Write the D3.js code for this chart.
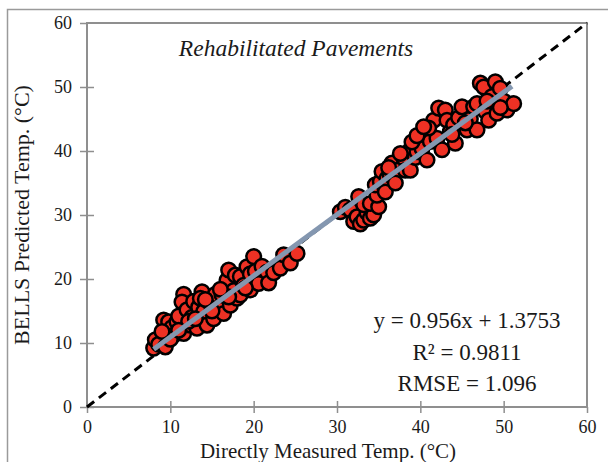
<!DOCTYPE html>
<html>
<head>
<meta charset="utf-8">
<script src="https://cdn.jsdelivr.net/npm/d3@7"></script>
<style>
  body { margin: 0; background: #fff; }
  text { font-family: "Liberation Serif", "Times New Roman", serif; fill: #1a1a1a; }
</style>
</head>
<body>
<div id="chart"></div>
<script>
// directly measured temperature (x) and BELLS predicted temperature (y)
var measured = [
  8.0, 8.2, 8.6, 9.4, 9.2, 9.8, 10.2, 10.4, 10.8, 11.0, 11.6, 11.6, 11.4, 12.0, 12.4, 12.8,
  12.6, 13.2, 13.4, 13.8, 13.6, 14.0, 14.4, 14.8, 15.2, 15.4, 15.8, 16.2, 16.4, 16.8, 17.0,
  17.2, 17.6, 17.8, 18.0, 18.4, 18.4, 18.8, 19.2, 19.6, 19.6, 20.0, 20.2, 20.6, 21.0, 21.6,
  21.8, 22.4, 23.2, 23.6, 24.4, 25.2, 10.0, 9.0, 12.2, 11.0, 15.0, 17.0, 19.0, 16.0, 13.0, 14.2,
  30.4, 31.0, 31.6, 32.0, 32.4, 32.8, 33.2, 33.6, 34.0, 34.4, 32.6, 33.2, 34.0, 35.0, 34.8,
  34.6, 35.2, 35.4, 36.0, 35.8, 36.6, 36.4, 37.2, 37.0, 38.0, 38.2, 38.8, 38.8, 39.4, 39.6,
  40.0, 40.2, 40.6, 40.8, 41.2, 41.6, 42.0, 42.2, 42.6, 43.0, 43.2, 43.6, 44.0, 44.2, 44.6,
  45.0, 45.6, 46.0, 46.4, 46.8, 46.8, 47.2, 47.6, 47.8, 48.2, 48.6, 49.0, 49.2, 49.6, 50.0,
  50.4, 51.2, 49.6, 48.0, 37.6, 39.0, 41.0, 36.2, 45.4, 43.8, 39.6, 40.4
];
var predicted = [
  9.2, 10.5, 9.8, 9.4, 13.6, 13.3, 12.4, 11.2, 13.3, 14.2, 11.5, 17.6, 16.4, 15.2, 12.8, 16.5,
  14.0, 12.3, 15.6, 18.0, 17.0, 14.9, 12.8, 16.2, 13.8, 17.6, 15.4, 17.5, 14.6, 19.8, 21.4,
  15.9, 18.2, 20.6, 17.0, 20.4, 17.5, 19.0, 21.9, 18.3, 20.8, 23.5, 21.2, 19.3, 22.0, 21.1,
  19.4, 21.0, 21.7, 23.8, 22.5, 24.0, 10.6, 11.8, 13.4, 12.0, 15.0, 17.2, 18.6, 18.4, 13.8, 16.8,
  30.5, 31.2, 30.8, 29.0, 29.7, 28.6, 29.2, 30.4, 29.5, 30.0, 32.9, 31.6, 31.8, 31.3, 33.1,
  34.7, 35.2, 36.8, 35.7, 33.6, 38.1, 36.2, 37.0, 35.0, 38.9, 37.0, 37.0, 40.2, 39.0, 39.9,
  42.2, 40.4, 43.3, 38.6, 41.5, 44.8, 42.0, 46.7, 40.2, 46.4, 44.8, 43.0, 44.1, 41.2, 45.2,
  46.9, 43.3, 45.0, 46.9, 43.3, 47.4, 50.6, 50.0, 46.2, 44.8, 48.5, 50.8, 45.9, 49.8, 47.8,
  46.4, 47.4, 46.8, 47.8, 39.6, 41.4, 43.6, 37.4, 44.4, 42.6, 42.4, 43.8
];
var xTicks = [0, 10, 20, 30, 40, 50, 60];
var yTicks = [0, 10, 20, 30, 40, 50, 60];
var slope = 0.956, intercept = 1.3753;
var fitRange = [8, 51];
var statLines = ["y = 0.956x + 1.3753", "R² = 0.9811", "RMSE = 1.096"];

var W = 608, H = 462;
var margin = { top: 23, right: 21, bottom: 55, left: 87 },
    width = W - margin.left - margin.right,
    height = H - margin.top - margin.bottom;

var svg = d3.select("#chart").append("svg")
    .attr("width", W)
    .attr("height", H);

// outer frame (only top/left visible)
svg.append("path")
    .attr("d", "M7.5," + H + "V9.5H" + W)
    .style("fill", "none")
    .style("stroke", "#9a9a9a")
    .style("stroke-width", 1.5);

var g = svg.append("g")
    .attr("transform", "translate(" + margin.left + "," + margin.top + ")");

var x = d3.scaleLinear().domain([0, 60]).range([0, width]),
    y = d3.scaleLinear().domain([0, 60]).range([height, 0]);

// plot border
g.append("rect")
    .attr("width", width)
    .attr("height", height)
    .style("fill", "none")
    .style("stroke", "#8f8f8f")
    .style("stroke-width", 2);

// axes
var xAxis = g.append("g")
    .attr("transform", "translate(0," + height + ")")
    .call(d3.axisBottom(x).tickValues(xTicks).tickSize(6).tickPadding(7));
var yAxis = g.append("g")
    .call(d3.axisLeft(y).tickValues(yTicks).tickSize(7).tickPadding(8));

[xAxis, yAxis].forEach(function (a) {
    a.attr("font-family", "Liberation Serif").attr("font-size", 18);
    a.select(".domain").remove();
    a.selectAll(".tick line").attr("stroke", "#8f8f8f").attr("stroke-width", 1.5);
    a.selectAll(".tick text").attr("fill", "#1a1a1a");
});
// ticks cross the axis
xAxis.selectAll(".tick line").attr("y1", -6);
yAxis.selectAll(".tick line").attr("x1", 7);
xAxis.selectAll(".tick").filter(function (d) { return d === 0 || d === 60; }).select("line").attr("y1", 0);
yAxis.selectAll(".tick").filter(function (d) { return d === 60; }).select("line").attr("x1", 0);

// 1:1 line
g.append("line")
    .attr("x1", x(0)).attr("y1", y(0))
    .attr("x2", x(60)).attr("y2", y(60))
    .style("stroke", "#000")
    .style("stroke-width", 3)
    .style("stroke-dasharray", "9,6");

// points
var pts = measured.map(function (m, i) { return { m: m, p: predicted[i] }; });
g.selectAll(".dot")
    .data(pts)
    .enter().append("circle")
    .attr("class", "dot")
    .attr("cx", function (d) { return x(d.m); })
    .attr("cy", function (d) { return y(d.p); })
    .attr("r", 7.3)
    .style("fill", "#ee3124")
    .style("stroke", "#000")
    .style("stroke-width", 2.5);

// regression line
g.append("line")
    .attr("x1", x(fitRange[0])).attr("y1", y(slope * fitRange[0] + intercept))
    .attr("x2", x(fitRange[1])).attr("y2", y(slope * fitRange[1] + intercept))
    .style("stroke", "#8497b0")
    .style("stroke-width", 5);

// annotation
g.append("text")
    .attr("x", 209)
    .attr("y", 33)
    .style("text-anchor", "middle")
    .style("font-style", "italic")
    .style("font-size", "23.5px")
    .text("Rehabilitated Pavements");

g.selectAll(".stat")
    .data(statLines)
    .enter().append("text")
    .attr("class", "stat")
    .attr("x", 380)
    .attr("y", function (d, i) { return 305 + i * 31.5; })
    .style("text-anchor", "middle")
    .style("font-size", "23px")
    .text(function (d) { return d; });

// axis titles
svg.append("text")
    .attr("x", 328)
    .attr("y", 458)
    .style("text-anchor", "middle")
    .style("font-size", "21px")
    .text("Directly Measured Temp. (°C)");

svg.append("text")
    .attr("transform", "rotate(-90)")
    .attr("x", -215)
    .attr("y", 29)
    .style("text-anchor", "middle")
    .style("font-size", "22px")
    .text("BELLS Predicted Temp. (°C)");
</script>
</body>
</html>
